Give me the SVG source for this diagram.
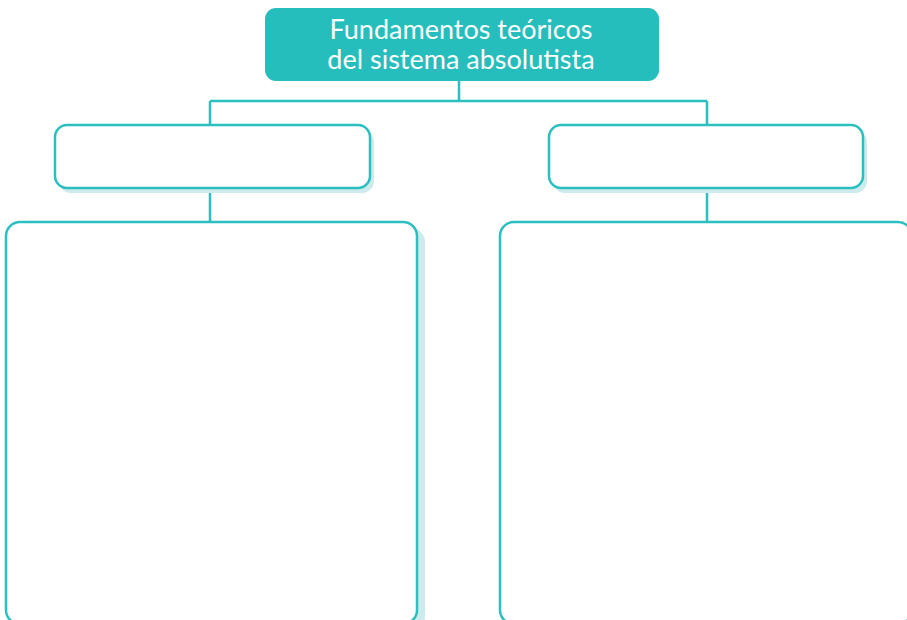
<svg xmlns="http://www.w3.org/2000/svg" width="907" height="620" viewBox="0 0 907 620">
<style>
.box{fill:#fff;stroke:#2bbfbf;stroke-width:2.5}
.sh{fill:#cdebec}
.ln{fill:none;stroke:#2bbfbf;stroke-width:2.5}
.t{font-family:Lato,"Open Sans",sans-serif;font-size:27px;fill:#fff;text-anchor:middle}
</style>
<rect width="907" height="620" fill="#fff"/>
<g id="connectors">
<path class="ln" d="M459 81V101M210 101H707M210 101V125M707 101V125M210 188V222M707 188V222"/>
</g>
<g id="root">
<rect x="265" y="8" width="394" height="73" rx="11" fill="#26bdbd"/>
<text class="t" x="461" y="39">Fundamentos teóricos</text>
<text class="t" x="461" y="69">del sistema absolutista</text>
</g>
<g id="left-head">
<rect class="sh" x="59" y="130" width="315" height="63" rx="12"/>
<rect class="box" x="55" y="125" width="315" height="63" rx="12"/>
</g>
<g id="right-head">
<rect class="sh" x="553" y="130" width="314" height="63" rx="12"/>
<rect class="box" x="549" y="125" width="314" height="63" rx="12"/>
</g>
<g id="left-body">
<rect class="sh" x="14" y="228" width="411" height="402" rx="14"/>
<rect class="box" x="6" y="222" width="411" height="402" rx="14"/>
</g>
<g id="right-body">
<rect class="box" x="500" y="222" width="412" height="402" rx="14"/>
</g>
</svg>
